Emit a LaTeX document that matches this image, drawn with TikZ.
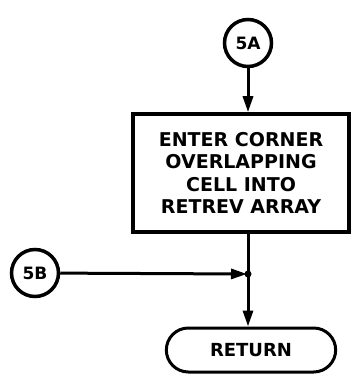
\documentclass[tikz,border=0pt]{standalone}
\usepackage{fontspec}
\setmainfont{DejaVu Sans}
\usetikzlibrary{arrows.meta,shapes.misc}
\begin{document}
\begin{tikzpicture}[x=1pt,y=-1pt,
  conn/.style={draw,circle,line width=3.5pt,minimum size=47pt,inner sep=0pt,font=\bfseries\fontsize{17}{17}\selectfont},
  procbox/.style={draw,rectangle,line width=3.5pt,minimum width=216pt,minimum height=118pt,align=center,font=\bfseries\fontsize{19}{22.3}\selectfont},
  term/.style={draw,rounded rectangle,line width=3pt,minimum width=176pt,minimum height=44pt,font=\bfseries\fontsize{18}{18}\selectfont},
  flow/.style={line width=3pt,-{Triangle[length=16pt,width=10pt]}},
  line/.style={line width=3pt}]
\useasboundingbox (0,0) rectangle (355,377);
\node[conn] (c5a) at (248,43) {5A};
\node[procbox] (box) at (241,173) {ENTER CORNER\\OVERLAPPING\\CELL INTO\\RETREV ARRAY};
\node[conn] (c5b) at (35,273) {5B};
\node[term] (ret) at (251,350) {RETURN};
\coordinate (j) at (248,274);
\draw[flow] (c5a) -- (c5a|-box.north);
\draw[line] (box.south-|j) -- (j);
\draw[flow] (c5b) -- ([xshift=-1pt]j);
\fill (j) circle (3.5pt);
\draw[flow] (j) -- (j|-ret.north);
\end{tikzpicture}
\end{document}
